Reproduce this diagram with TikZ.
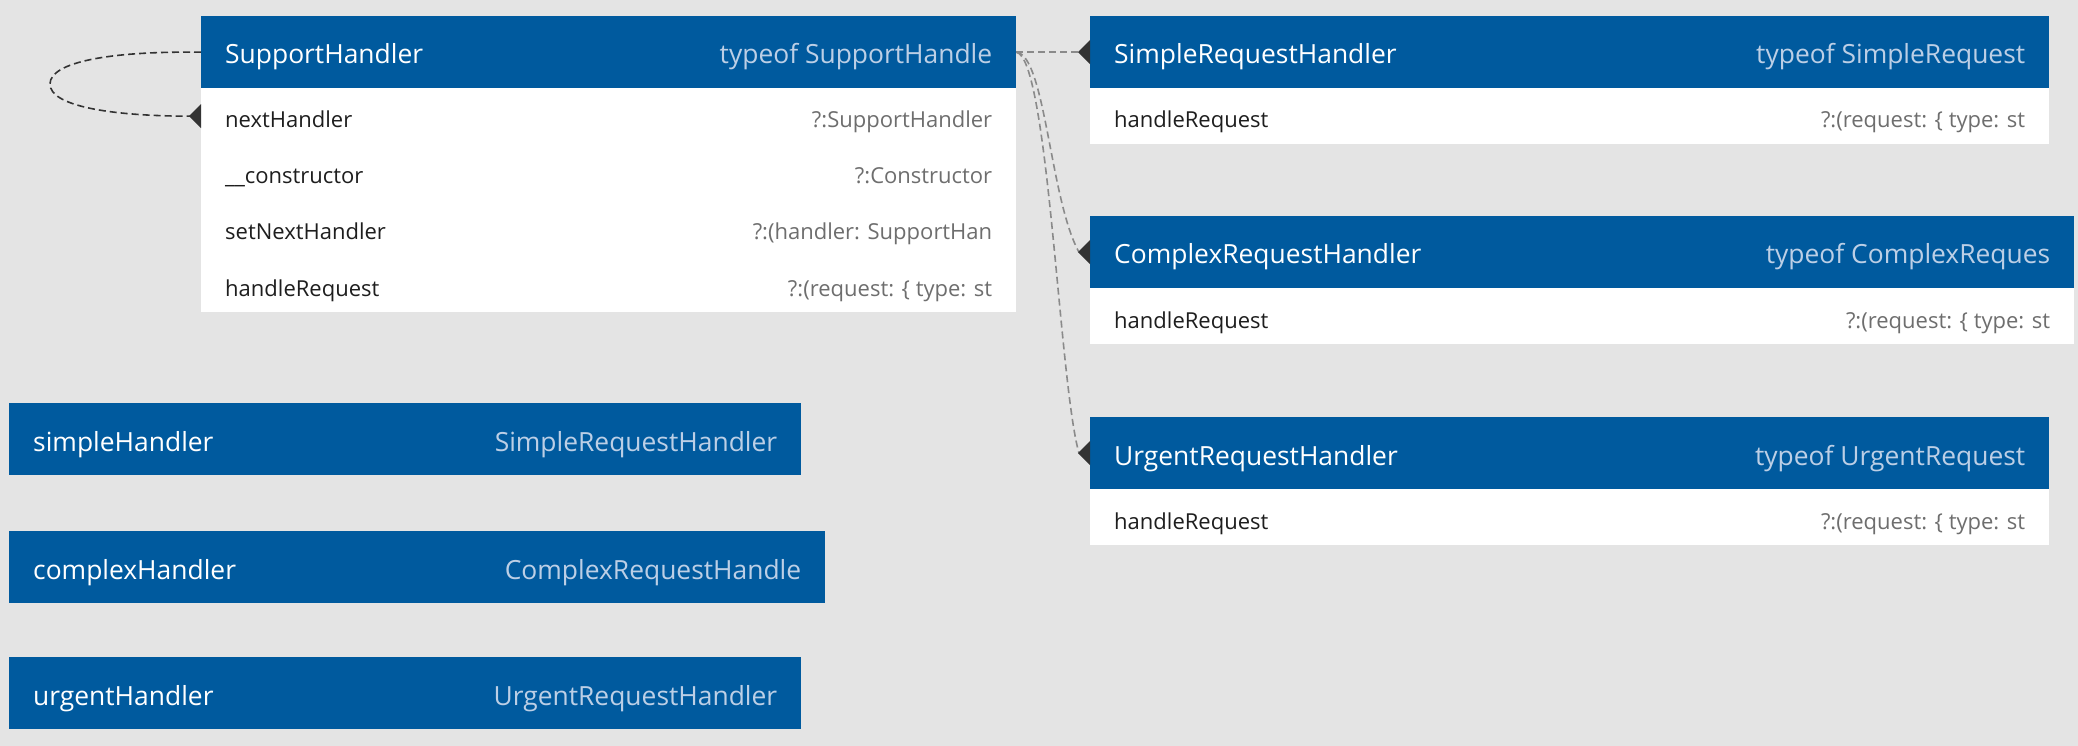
\documentclass[tikz,border=0pt]{standalone}
\usepackage{fontspec}
\setmainfont{Open Sans}
\usetikzlibrary{calc}
\definecolor{bg}{HTML}{E4E4E4}
\definecolor{hdr}{HTML}{005A9E}
\definecolor{hdrsub}{HTML}{BCCFE6}
\definecolor{bodytxt}{HTML}{1E1E1E}
\definecolor{bodysub}{HTML}{6E6E6E}
\definecolor{loopc}{HTML}{333333}
\definecolor{linkc}{HTML}{8A8A8A}
\begin{document}
\begin{tikzpicture}[x=1pt,y=-1pt,
 hbox/.style={fill=hdr, draw=none, anchor=north west, inner sep=0pt, minimum height=72pt},
 rowbox/.style={fill=white, draw=none, anchor=north west, inner sep=0pt, minimum height=56pt},
 htl/.style={anchor=base west, inner sep=0pt, text=white, font=\fontsize{26.4}{30}\selectfont},
 htr/.style={anchor=base east, inner sep=0pt, text=hdrsub, font=\fontsize{26.4}{30}\selectfont},
 rtl/.style={anchor=base west, inner sep=0pt, text=bodytxt, font=\fontsize{22}{26}\selectfont},
 rtr/.style={anchor=base east, inner sep=0pt, text=bodysub, font=\fontsize{22}{26}\selectfont},
 selfloop/.style={draw=loopc, line width=1.6pt, dash pattern=on 7pt off 4pt},
 link/.style={draw=linkc, line width=1.6pt, dash pattern=on 7pt off 4pt},
 tipc/.style={fill=loopc}
]
\fill[bg] (0,0) rectangle (2078,746);
\useasboundingbox (0,0) rectangle (2078,746);

% SupportHandler
\node[hbox, minimum width=815pt] (sh) at (201,16) {};
\node[rowbox, minimum width=815pt] (sh1) at (201,88) {};
\node[rowbox, minimum width=815pt] (sh2) at (201,144) {};
\node[rowbox, minimum width=815pt] (sh3) at (201,200) {};
\node[rowbox, minimum width=815pt] (sh4) at (201,256) {};
\node[htl] (shL) at ($(sh.north west)+(24,48)$) {SupportHandler};
\node[htr] (shR) at ($(sh.north east)+(-24,48)$) {typeof SupportHandle};
\node[rtl] (sh1L) at ($(sh1.north west)+(24,40)$) {nextHandler};
\node[rtr] (sh1R) at ($(sh1.north east)+(-24,40)$) {?:SupportHandler};
\node[rtl] (sh2L) at ($(sh2.north west)+(24,40)$) {\_\_constructor};
\node[rtr] (sh2R) at ($(sh2.north east)+(-24,40)$) {?:Constructor};
\node[rtl] (sh3L) at ($(sh3.north west)+(24,40)$) {setNextHandler};
\node[rtr] (sh3R) at ($(sh3.north east)+(-24,40)$) {?:(handler: SupportHan};
\node[rtl] (sh4L) at ($(sh4.north west)+(24,40)$) {handleRequest};
\node[rtr] (sh4R) at ($(sh4.north east)+(-24,40)$) {?:(request: \{ type: st};

% SimpleRequestHandler
\node[hbox, minimum width=959pt] (srh) at (1090,16) {};
\node[rowbox, minimum width=959pt] (srh1) at (1090,88) {};
\node[htl] (srhL) at ($(srh.north west)+(24,48)$) {SimpleRequestHandler};
\node[htr] (srhR) at ($(srh.north east)+(-24,48)$) {typeof SimpleRequest};
\node[rtl] (srh1L) at ($(srh1.north west)+(24,40)$) {handleRequest};
\node[rtr] (srh1R) at ($(srh1.north east)+(-24,40)$) {?:(request: \{ type: st};

% ComplexRequestHandler
\node[hbox, minimum width=984pt] (crh) at (1090,216) {};
\node[rowbox, minimum width=984pt] (crh1) at (1090,288) {};
\node[htl] (crhL) at ($(crh.north west)+(24,48)$) {ComplexRequestHandler};
\node[htr] (crhR) at ($(crh.north east)+(-24,48)$) {typeof ComplexReques};
\node[rtl] (crh1L) at ($(crh1.north west)+(24,40)$) {handleRequest};
\node[rtr] (crh1R) at ($(crh1.north east)+(-24,40)$) {?:(request: \{ type: st};

% UrgentRequestHandler
\node[hbox, minimum width=959pt] (urh) at (1090,417) {};
\node[rowbox, minimum width=959pt] (urh1) at (1090,489) {};
\node[htl] (urhL) at ($(urh.north west)+(24,48)$) {UrgentRequestHandler};
\node[htr] (urhR) at ($(urh.north east)+(-24,48)$) {typeof UrgentRequest};
\node[rtl] (urh1L) at ($(urh1.north west)+(24,40)$) {handleRequest};
\node[rtr] (urh1R) at ($(urh1.north east)+(-24,40)$) {?:(request: \{ type: st};

% variables
\node[hbox, minimum width=792pt] (sv) at (9,403) {};
\node[htl] (svL) at ($(sv.north west)+(24,48)$) {simpleHandler};
\node[htr] (svR) at ($(sv.north east)+(-24,48)$) {SimpleRequestHandler};
\node[hbox, minimum width=816pt] (cv) at (9,531) {};
\node[htl] (cvL) at ($(cv.north west)+(24,48)$) {complexHandler};
\node[htr] (cvR) at ($(cv.north east)+(-24,48)$) {ComplexRequestHandle};
\node[hbox, minimum width=792pt] (uv) at (9,657) {};
\node[htl] (uvL) at ($(uv.north west)+(24,48)$) {urgentHandler};
\node[htr] (uvR) at ($(uv.north east)+(-24,48)$) {UrgentRequestHandler};

% connectors
\coordinate (loopL) at (50,84);
\draw[selfloop] (sh.west) .. controls (110,51) and (50,62) .. (loopL) .. controls (50,106) and (110,116) .. ($(sh1.west)+(-11,0)$);
\draw[link] (sh.east) -- ($(srh.west)+(-11,0)$);
\draw[link] (sh.east) .. controls +(29,3) and +(-29,-52) .. ($(crh.west)+(-11,0)$);
\draw[link] (sh.east) .. controls +(32,6) and +(-20,-70) .. ($(urh.west)+(-11,0)$);

% tips
\fill[tipc] ($(sh1.west)+(0,-12)$) -- ($(sh1.west)+(-12,0)$) -- ($(sh1.west)+(0,12)$) -- cycle;
\fill[tipc] ($(srh.west)+(0,-12)$) -- ($(srh.west)+(-12,0)$) -- ($(srh.west)+(0,12)$) -- cycle;
\fill[tipc] ($(crh.west)+(0,-12)$) -- ($(crh.west)+(-12,0)$) -- ($(crh.west)+(0,12)$) -- cycle;
\fill[tipc] ($(urh.west)+(0,-12)$) -- ($(urh.west)+(-12,0)$) -- ($(urh.west)+(0,12)$) -- cycle;
\end{tikzpicture}
\end{document}
